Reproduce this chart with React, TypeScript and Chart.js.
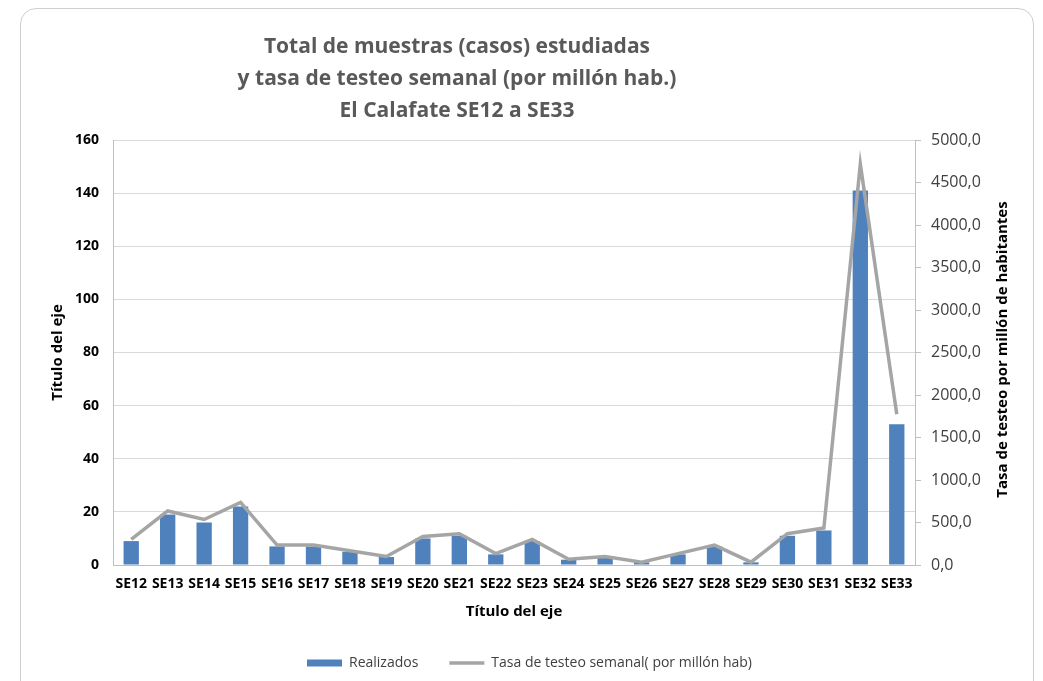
import React, { useEffect, useRef } from 'react';
import { Chart, registerables } from 'chart.js';

Chart.register(...registerables);

const weeks = ['SE12', 'SE13', 'SE14', 'SE15', 'SE16', 'SE17', 'SE18', 'SE19', 'SE20', 'SE21', 'SE22', 'SE23', 'SE24', 'SE25', 'SE26', 'SE27', 'SE28', 'SE29', 'SE30', 'SE31', 'SE32', 'SE33'];
const realizados = [9, 19, 16, 22, 7, 7, 5, 3, 10, 11, 4, 9, 2, 3, 1, 4, 7, 1, 11, 13, 141, 53];
const tasaSemanal = [301.0, 635.4, 535.1, 735.7, 234.1, 234.1, 167.2, 100.3, 334.4, 367.9, 133.8, 301.0, 66.9, 100.3, 33.4, 133.8, 234.1, 33.4, 367.9, 434.8, 4715.4, 1772.4];
const titleLines = ['Total de muestras (casos) estudiadas', 'y tasa de testeo semanal (por millón hab.)', 'El Calafate SE12 a SE33'];
const seriesNames = ['Realizados', 'Tasa de testeo semanal( por millón hab)'];
const leftAxisTitle = 'Título del eje';
const bottomAxisTitle = 'Título del eje';
const rightAxisTitle = 'Tasa de testeo por millón de habitantes';

const FONT = "'Open Sans', 'Noto Sans', sans-serif";

const rightTitlePlugin = {
  id: 'rightTitle',
  afterDraw(chart: any) {
    const ctx = chart.ctx;
    const area = chart.chartArea;
    ctx.save();
    ctx.translate(1003, (area.top + area.bottom) / 2 - 3);
    ctx.rotate(-Math.PI / 2);
    ctx.font = `bold 15px ${FONT}`;
    ctx.fillStyle = '#000000';
    ctx.textAlign = 'center';
    ctx.textBaseline = 'middle';
    ctx.fillText(rightAxisTitle, 0, 0);
    ctx.restore();
  },
};

export default function App() {
  const canvasRef = useRef<HTMLCanvasElement | null>(null);

  useEffect(() => {
    if (!canvasRef.current) return;
    const chart = new Chart(canvasRef.current, {
      type: 'bar',
      data: {
        labels: weeks,
        datasets: [
          {
            type: 'bar',
            label: seriesNames[0],
            data: realizados,
            backgroundColor: '#4f81bd',
            borderWidth: 0,
            barPercentage: 0.42,
            categoryPercentage: 1.0,
            yAxisID: 'y',
            order: 1,
          },
          {
            type: 'line',
            label: seriesNames[1],
            data: tasaSemanal,
            borderColor: '#a5a5a5',
            backgroundColor: '#a5a5a5',
            borderWidth: 3.5,
            pointRadius: 0,
            tension: 0,
            yAxisID: 'y1',
            order: 0,
          },
        ],
      },
      options: {
        responsive: false,
        animation: false,
        maintainAspectRatio: false,
        layout: { padding: { left: 40, right: 24, top: 140, bottom: 1 } },
        plugins: {
          title: { display: false },
          tooltip: { enabled: false },
          legend: {
            position: 'bottom',
            labels: {
              usePointStyle: true,
              pointStyleWidth: 35,
              boxHeight: 7,
              padding: 10,
              color: '#404040',
              font: { family: FONT, size: 14 },
              sort: (a: any, b: any) => a.datasetIndex - b.datasetIndex,
              generateLabels: (c: any) => {
                const items = Chart.defaults.plugins.legend.labels.generateLabels(c);
                items.forEach((it: any) => {
                  if (it.datasetIndex === 0) {
                    it.pointStyle = 'rect';
                    it.fillStyle = '#4f81bd';
                    it.strokeStyle = '#4f81bd';
                    it.lineWidth = 0;
                    it.text = seriesNames[0] + '\u2002\u2002\u2002';
                  } else {
                    it.pointStyle = 'line';
                    it.strokeStyle = '#a5a5a5';
                    it.lineWidth = 3.5;
                  }
                });
                items.sort((a: any, b: any) => a.datasetIndex - b.datasetIndex);
                return items;
              },
            },
          },
        },
        scales: {
          x: {
            offset: true,
            grid: { drawOnChartArea: false, drawTicks: false },
            border: { display: true, color: '#bfbfbf' },
            ticks: {
              autoSkip: false,
              maxRotation: 0,
              minRotation: 0,
              padding: 11,
              color: '#000000',
              font: { family: FONT, size: 14, weight: 'bold' },
            },
            title: {
              display: true,
              text: bottomAxisTitle,
              color: '#000000',
              font: { family: FONT, size: 15, weight: 'bold' },
              padding: { top: 25, bottom: 25 },
            },
            afterFit: (s: any) => {
              s.height = 81;
            },
          },
          y: {
            position: 'left',
            min: 0,
            max: 160,
            ticks: {
              stepSize: 20,
              padding: 14,
              color: '#000000',
              font: { family: FONT, size: 14, weight: 'bold' },
            },
            grid: { color: '#d9d9d9', drawTicks: false },
            border: { display: true, color: '#bfbfbf' },
            title: {
              display: true,
              text: leftAxisTitle,
              color: '#000000',
              font: { family: FONT, size: 15, weight: 'bold' },
              padding: { top: 9, bottom: 9 },
            },
            afterFit: (s: any) => {
              s.width = 73;
            },
          },
          y1: {
            position: 'right',
            min: 0,
            max: 5000,
            ticks: {
              stepSize: 500,
              padding: 10,
              color: '#404040',
              font: { family: FONT, size: 16 },
              callback: (v: any) => Number(v).toFixed(1).replace('.', ','),
            },
            grid: { drawOnChartArea: false, drawTicks: true, tickLength: 6, color: '#bfbfbf' },
            border: { display: true, color: '#bfbfbf' },
            afterFit: (s: any) => {
              s.width = 104;
            },
          },
        },
      },
      plugins: [rightTitlePlugin],
    } as any);
    return () => chart.destroy();
  }, []);

  return (
    <div style={{ position: 'fixed', left: 0, top: 0, width: 1043, height: 681, background: '#ffffff', overflow: 'hidden' }}>
      <div
        style={{
          position: 'absolute',
          left: 20,
          top: 8,
          width: 1014,
          height: 720,
          border: '1px solid #cfcfcf',
          borderRadius: 16,
          boxSizing: 'border-box',
          background: '#ffffff',
        }}
      />
      <canvas ref={canvasRef} width={1043} height={681} style={{ position: 'absolute', left: 0, top: 0, width: 1043, height: 681 }} />
      <div
        style={{
          position: 'absolute',
          left: 157,
          top: 29,
          width: 600,
          textAlign: 'center',
          fontFamily: FONT,
          fontWeight: 'bold',
          fontSize: 21,
          lineHeight: '32px',
          color: '#595959',
        }}
      >
        {titleLines.map((t) => (
          <div key={t}>{t}</div>
        ))}
      </div>
    </div>
  );
}
